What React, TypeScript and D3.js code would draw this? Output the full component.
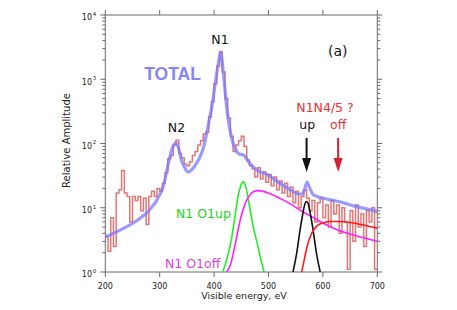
import React from 'react';
import * as d3 from 'd3';

// measured spectrum, 5 eV bins (bin start energy)
const binStart = [
  200, 205, 210, 215, 220, 225, 230, 235, 240, 245, 250, 255, 260, 265, 270, 275, 280, 285, 290, 295,
  300, 305, 310, 315, 320, 325, 330, 335, 340, 345, 350, 355, 360, 365, 370, 375, 380, 385, 390, 395,
  400, 405, 410, 415, 420, 425, 430, 435, 440, 445, 450, 455, 460, 465, 470, 475, 480, 485, 490, 495,
  500, 505, 510, 515, 520, 525, 530, 535, 540, 545, 550, 555, 560, 565, 570, 575, 580, 585, 590, 595,
  600, 605, 610, 615, 620, 625, 630, 635, 640, 645, 650, 655, 660, 665, 670, 675, 680, 685, 690, 695,
];
const counts = [
  3.6, 2.1, 7, 2.5, 17, 19, 38, 17, 15, 6, 15, 13, 15, 9, 14, 5.5, 15, 18, 15, 20,
  18, 24, 35, 58, 65, 95, 112, 70, 60, 48, 45, 52, 65, 75, 95, 110, 140, 150, 260, 450,
  850, 1600, 2650, 1300, 500, 250, 130, 75, 95, 110, 130, 90, 55, 45, 40, 30, 42, 28, 36, 25,
  33, 22, 30, 19, 26, 17, 24, 15, 21, 12, 18, 10, 15, 19, 14, 9, 13, 6, 12, 14,
  7, 11, 5, 13, 8, 11, 4, 10, 6, 1.1, 9, 3, 11, 5, 8, 2.5, 9, 6, 10, 1.1,
];

// TOTAL fit
const totalE = [200, 230, 260, 280, 300, 308, 313, 318, 322, 326, 330, 334, 340, 346, 352, 360, 368, 375, 381, 386, 391, 396, 402, 408, 412, 417, 423, 429, 435, 441, 447, 454, 460, 466, 480, 497, 510, 521, 540, 552, 561, 566, 571, 576, 582, 589, 610, 631, 660, 680, 700];
const totalV = [3.5, 4.6, 6.5, 9, 15.8, 24, 38, 58, 79, 95, 102, 88, 55, 42, 36, 40, 50, 64, 90, 140, 230, 380, 860, 1800, 2650, 1250, 380, 165, 100, 76, 68, 66, 58, 49, 38, 33, 28, 24, 19, 16.7, 16.3, 19, 25, 20, 16, 15, 13.5, 12.4, 10.5, 9.6, 8.7];

// N1 O1up
const upE = [416, 425, 432, 438, 444, 449, 454, 459, 466, 472, 478, 485, 492];
const upV = [1, 1.8, 3.3, 7, 15, 22, 25.5, 20, 9.5, 5, 3.1, 1.7, 1];

// N1 O1off
const offE = [423, 430, 438, 444, 450, 457, 464, 472, 481, 490, 503, 521, 540, 560, 580, 600, 625, 650, 675, 700];
const offV = [1, 1.3, 2.5, 4.5, 7.5, 11.5, 15, 17.8, 18.5, 18, 16.5, 14, 11.5, 9, 7.2, 5.8, 4.6, 3.9, 3.4, 3.0];

// N1N4/5 up
const n45upE = [545, 552, 558, 563, 567, 570, 573, 577, 582, 588, 595];
const n45upV = [1, 2, 4.5, 8, 11.5, 12.5, 11.5, 8, 4.5, 2, 1];

// N1N4/5 off
const n45offE = [561, 566, 571, 577, 583, 590, 600, 615, 630, 650, 670, 690, 700];
const n45offV = [1, 1.6, 2.5, 3.6, 4.5, 5.3, 5.8, 6.1, 6.1, 5.9, 5.5, 5.0, 4.8];

const xTicks = [200, 300, 400, 500, 600, 700];
const yDecades = [1, 10, 100, 1000, 10000];
const yExp = ['0', '1', '2', '3', '4'];

const W = 457;
const H = 310;
const left = 105.3, right = 377.3, top = 15, bottom = 272;
const font = '"DejaVu Sans", Verdana, sans-serif';

export default function App() {
  const x = d3.scaleLinear().domain([200, 700]).range([left, right]);
  const y = d3.scaleLog().domain([1, 1e4]).range([bottom, top]);

  const curve = (es: number[], vs: number[]) =>
    d3.line<number>()
      .x((d, i) => x(es[i]))
      .y(d => y(d))
      .curve(d3.curveMonotoneX)(vs) || '';

  const histE = [...binStart, 700];
  const histV = [...counts, counts[counts.length - 1]];
  const hist = d3.line<number>()
    .x((d, i) => x(histE[i]))
    .y(d => y(Math.max(d, 1)))
    .curve(d3.curveStepAfter)(histV) || '';

  const minor: number[] = [];
  yDecades.slice(0, -1).forEach(dec => {
    for (let k = 2; k <= 9; k++) minor.push(dec * k);
  });

  const axisColor = '#6a6a6a';

  const arrow = (cx: number, color: string) => (
    <g>
      <line x1={cx} x2={cx} y1={138} y2={162} stroke={color} strokeWidth={2} />
      <path d={`M${cx - 4.5},${158} L${cx + 4.5},${158} L${cx},${172} Z`} fill={color} />
    </g>
  );

  return (
    <svg width={W} height={H} style={{ position: 'absolute', left: 0, top: 0, background: '#fff' }}>
      <defs>
        <clipPath id="plot">
          <rect x={left} y={top} width={right - left} height={bottom - top} />
        </clipPath>
      </defs>

      {/* frame */}
      <rect x={left} y={top} width={right - left} height={bottom - top} fill="none" stroke={axisColor} strokeWidth={1} />

      {xTicks.map(t => (
        <g key={'xt' + t}>
          <line x1={x(t)} x2={x(t)} y1={bottom} y2={bottom + 5} stroke={axisColor} />
          <line x1={x(t)} x2={x(t)} y1={top} y2={top - 5} stroke={axisColor} />
          <text x={x(t)} y={289} textAnchor="middle" fontSize={8} fontFamily={font} fill="#222">{t}</text>
        </g>
      ))}

      {yDecades.map((d, i) => (
        <g key={'yd' + d}>
          <line x1={left - 5} x2={left} y1={y(d)} y2={y(d)} stroke={axisColor} />
          <line x1={right} x2={right + 5} y1={y(d)} y2={y(d)} stroke={axisColor} />
          <text x={92} y={y(d) + 5.3} textAnchor="end" fontSize={8} fontFamily={font} fill="#222">10</text>
          <text x={92.8} y={y(d) + 0.8} fontSize={5.5} fontFamily={font} fill="#222">{yExp[i]}</text>
        </g>
      ))}
      {minor.map(m => (
        <g key={'ym' + m}>
          <line x1={left - 3} x2={left} y1={y(m)} y2={y(m)} stroke={axisColor} />
          <line x1={right} x2={right + 3} y1={y(m)} y2={y(m)} stroke={axisColor} />
        </g>
      ))}

      <text x={244} y={299} textAnchor="middle" fontSize={9.5} fontFamily={font} fill="#222">Visible energy, eV</text>
      <text transform="translate(70,140.5) rotate(-90)" textAnchor="middle" fontSize={10} fontFamily={font} fill="#222">Relative Amplitude</text>

      <g clipPath="url(#plot)" fill="none">
        <path d={hist} stroke="#d83c3c" strokeWidth={1.5} strokeOpacity={0.7} />
        <path d={curve(upE, upV)} stroke="#22ee22" strokeWidth={1.6} />
        <path d={curve(offE, offV)} stroke="#ff20ff" strokeWidth={1.6} />
        <path d={curve(n45upE, n45upV)} stroke="#111" strokeWidth={1.6} />
        <path d={curve(n45offE, n45offV)} stroke="#ff1a1a" strokeWidth={1.6} />
        <path d={curve(totalE, totalV)} stroke="#7878ff" strokeWidth={3.2} strokeOpacity={0.75} strokeLinejoin="round" />
      </g>

      <text x={220} y={44} textAnchor="middle" fontSize={12.5} fontFamily={font} fill="#111">N1</text>
      <text x={176.5} y={131.7} textAnchor="middle" fontSize={12.5} fontFamily={font} fill="#111">N2</text>
      <text x={172.5} y={80} textAnchor="middle" fontSize={17.5} fontWeight="bold" fontFamily='"Liberation Sans", Arial, sans-serif' fill="#8585f5">TOTAL</text>
      <text x={337.8} y={55.5} textAnchor="middle" fontSize={14} fontFamily={font} fill="#111">(a)</text>
      <text x={325} y={111.7} textAnchor="middle" fontSize={12.5} fontFamily={font} fill="#e63232">N1N4/5 ?</text>
      <text x={307.2} y={128.5} textAnchor="middle" fontSize={12.5} fontFamily={font} fill="#111">up</text>
      <text x={338.2} y={128.5} textAnchor="middle" fontSize={12.5} fontFamily={font} fill="#e63232">off</text>
      {arrow(x(570), '#111')}
      {arrow(x(628), '#d42030')}
      <text x={176} y={217.5} fontSize={12.5} fontFamily={font} fill="#22d622">N1 O1up</text>
      <text x={165} y={267.5} fontSize={12.5} fontFamily={font} fill="#e040e0">N1 O1off</text>
    </svg>
  );
}
